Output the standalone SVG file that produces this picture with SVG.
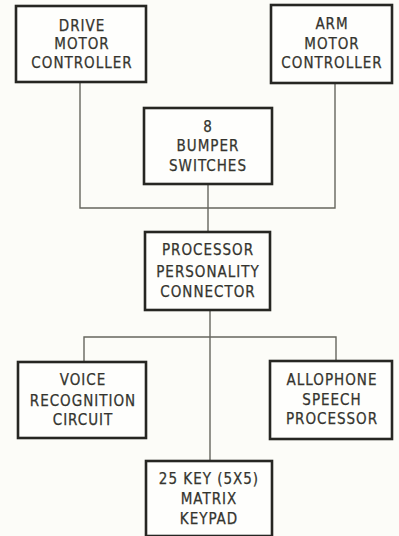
<svg xmlns="http://www.w3.org/2000/svg" width="399" height="536" viewBox="0 0 399 536">
<style>
.bg{fill:#fcfcf8}
.box{fill:#fefefc;stroke:#262622;stroke-width:2.6}
.lbl{font-family:"DejaVu Sans Condensed","DejaVu Sans","Liberation Sans",sans-serif;font-stretch:condensed;font-size:15px;letter-spacing:1px;fill:#34342e;stroke:#34342e;stroke-width:0.25;text-anchor:middle}
.wire{fill:none;stroke:#66665e;stroke-width:1.4}
</style>
<rect class="bg" x="0" y="0" width="399" height="536"/>
<g id="connectors">
<path class="wire" d="M80,82 V208 H335 V83 M208,184 V232"/>
<path class="wire" d="M210,310 V461 M84,362 V337 H336 V361"/>
</g>
<g id="drive">
<rect class="box" x="16" y="6" width="130" height="76"/>
<text class="lbl" x="82" y="31">DRIVE</text>
<text class="lbl" x="82" y="49">MOTOR</text>
<text class="lbl" x="82" y="68">CONTROLLER</text>
</g>
<g id="arm">
<rect class="box" x="271" y="5" width="121" height="78"/>
<text class="lbl" x="332" y="29">ARM</text>
<text class="lbl" x="332" y="49">MOTOR</text>
<text class="lbl" x="332" y="68">CONTROLLER</text>
</g>
<g id="bumper">
<rect class="box" x="144" y="108" width="128" height="76"/>
<text class="lbl" x="208" y="132">8</text>
<text class="lbl" x="208" y="151">BUMPER</text>
<text class="lbl" x="208" y="171">SWITCHES</text>
</g>
<g id="processor">
<rect class="box" x="145" y="232" width="125" height="78"/>
<text class="lbl" x="208" y="255">PROCESSOR</text>
<text class="lbl" x="208" y="277">PERSONALITY</text>
<text class="lbl" x="208" y="297">CONNECTOR</text>
</g>
<g id="voice">
<rect class="box" x="18" y="362" width="128" height="76"/>
<text class="lbl" x="83" y="385">VOICE</text>
<text class="lbl" x="83" y="406">RECOGNITION</text>
<text class="lbl" x="83" y="425">CIRCUIT</text>
</g>
<g id="allophone">
<rect class="box" x="270" y="361" width="122" height="78"/>
<text class="lbl" x="332" y="385">ALLOPHONE</text>
<text class="lbl" x="332" y="405">SPEECH</text>
<text class="lbl" x="332" y="424">PROCESSOR</text>
</g>
<g id="keypad">
<rect class="box" x="146" y="461" width="126" height="75"/>
<text class="lbl" x="209" y="484">25 KEY (5X5)</text>
<text class="lbl" x="209" y="504">MATRIX</text>
<text class="lbl" x="209" y="524">KEYPAD</text>
</g>
</svg>
